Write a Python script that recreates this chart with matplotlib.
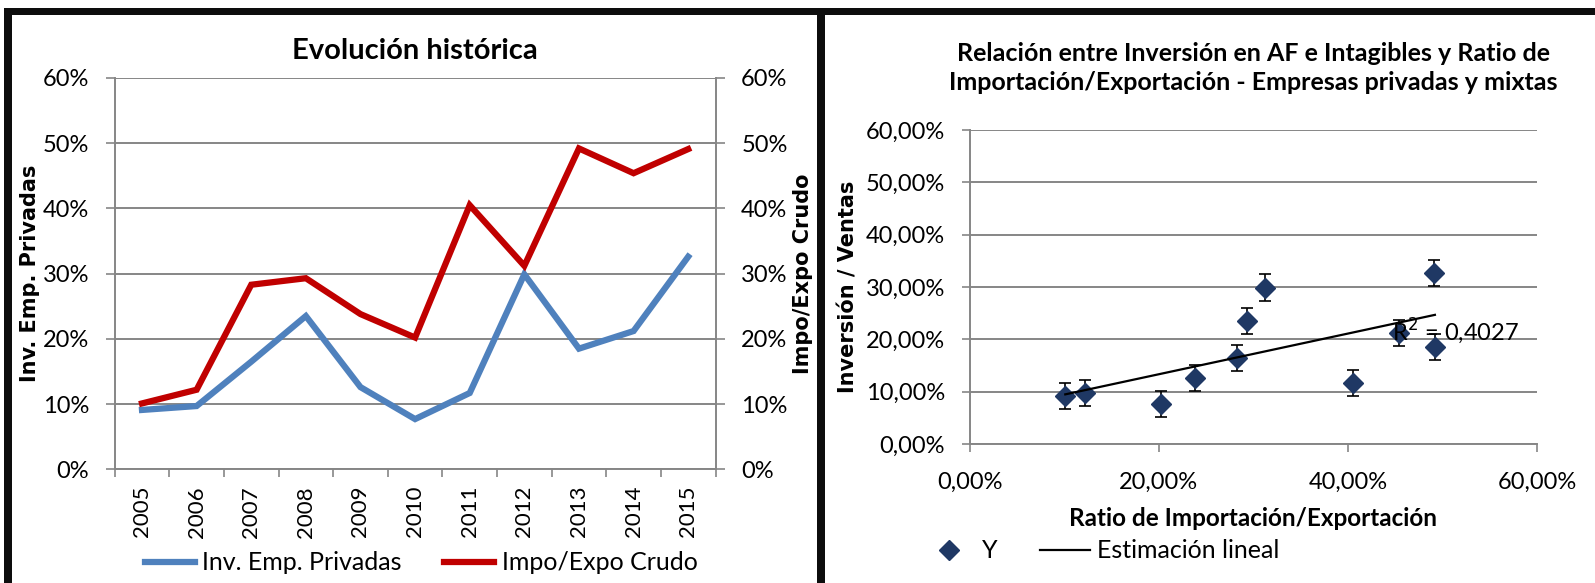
import numpy as np
import matplotlib
matplotlib.use("Agg")
import matplotlib.pyplot as plt
from matplotlib.patches import Rectangle
from matplotlib.ticker import FuncFormatter, FixedLocator

years = ["2005", "2006", "2007", "2008", "2009", "2010", "2011", "2012", "2013", "2014", "2015"]
inv_privadas = [0.091, 0.097, 0.165, 0.235, 0.126, 0.077, 0.117, 0.299, 0.185, 0.212, 0.326]
impo_expo = [0.101, 0.122, 0.283, 0.293, 0.238, 0.202, 0.405, 0.312, 0.492, 0.454, 0.491]
err_y = 0.025
r2_value = 0.4027

W, H = 1595, 583
fig = plt.figure(figsize=(W / 100, H / 100), dpi=100)
fig.patch.set_facecolor("white")

TXT = "Lato"
BOLD_AX = "DejaVu Sans"
grid_c = "#868686"
blue = "#4F81BD"
red = "#C00000"
navy = "#1F3864"


def box(x0, y0, x1, y1):
    # pixel box (top-left origin) -> figure fraction rectangle
    return [x0 / W, 1 - y1 / H, (x1 - x0) / W, (y1 - y0) / H]


# black frames around the two charts
for x0, y0, x1, y1 in [(4, 8, W, 15), (4, 8, 12, H), (817, 8, 825, H)]:
    b = box(x0, y0, x1, y1)
    fig.add_artist(Rectangle((b[0], b[1]), b[2], b[3], transform=fig.transFigure,
                             facecolor="#0d0d0d", edgecolor="none"))

# ---------- left chart: evolution ----------
ax = fig.add_axes(box(114.7, 78, 715.5, 469.3))
ax2 = ax.twinx()
xs = np.arange(len(years))

ax.plot(xs, inv_privadas, color=blue, lw=4.5, solid_joinstyle="miter", label="Inv. Emp. Privadas")
ax2.plot(xs, impo_expo, color=red, lw=4.5, solid_joinstyle="miter", label="Impo/Expo Crudo")

for a in (ax, ax2):
    a.set_ylim(0, 0.6)
    a.set_xlim(-0.5, len(years) - 0.5)
    a.set_yticks(np.arange(0, 0.61, 0.1))
    a.yaxis.set_major_formatter(FuncFormatter(lambda v, p: f"{v * 100:.0f}%"))
    for s in a.spines.values():
        s.set_visible(False)
    a.tick_params(axis="y", length=6.5, width=1.2, color=grid_c, pad=12,
                  labelsize=17, labelfontfamily=TXT)

ax.grid(axis="y", color=grid_c, lw=1.4)
ax.set_axisbelow(True)
ax.spines["left"].set_visible(True)
ax.spines["bottom"].set_visible(True)
ax2.spines["right"].set_visible(True)
for s in (ax.spines["left"], ax.spines["bottom"], ax2.spines["right"]):
    s.set_color(grid_c)
    s.set_linewidth(1.4)

ax.set_xticks(xs)
ax.set_xticklabels(years, rotation=90, fontsize=16, family=TXT)
ax.xaxis.set_minor_locator(FixedLocator(np.arange(-0.5, len(years), 1.0)))
ax.tick_params(axis="x", which="major", length=0, pad=12)
ax.tick_params(axis="x", which="minor", length=6, width=1.2, color=grid_c)

ax.set_title("Evolución histórica", fontsize=21, fontweight="bold", family=TXT, pad=14)
ax.set_ylabel("Inv. Emp. Privadas", fontsize=15, fontweight="bold", family=BOLD_AX)
ax.yaxis.set_label_coords(-0.124, 0.5)
ax2.set_ylabel("Impo/Expo Crudo", fontsize=15, fontweight="bold", family=BOLD_AX)
ax2.yaxis.set_label_coords(1.129, 0.5)

h1, l1 = ax.get_legend_handles_labels()
h2, l2 = ax2.get_legend_handles_labels()
fig.legend(h1 + h2, l1 + l2, loc="center", bbox_to_anchor=(421 / W, 1 - 563 / H), ncol=2,
           frameon=False, prop={"family": TXT, "size": 18}, handlelength=2.0,
           handletextpad=0.3, columnspacing=1.7)

# ---------- right chart: scatter with linear fit ----------
bx = fig.add_axes(box(969.8, 130, 1537, 444))
x = np.array(impo_expo)
y = np.array(inv_privadas)

bx.errorbar(x, y, yerr=err_y, fmt="none", ecolor="black", elinewidth=1.2, capsize=4, capthick=1.2)
bx.plot(x, y, "D", color=navy, markersize=10, ls="none", label="Y", zorder=3)

slope, intercept = np.polyfit(x, y, 1)
xf = np.array([x.min(), x.max()])
bx.plot(xf, slope * xf + intercept, color="black", lw=1.6, label="Estimación lineal", zorder=4)
bx.text(0.4466, 0.2146, f"R$^2$ = {r2_value:.4f}".replace(".", ","), fontsize=17, family=TXT,
        ha="left", va="center", zorder=5)

bx.set_xlim(0, 0.6)
bx.set_ylim(0, 0.6)
bx.set_xticks([0, 0.2, 0.4, 0.6])
bx.set_yticks(np.arange(0, 0.61, 0.1))
pct2 = FuncFormatter(lambda v, p: f"{v * 100:.2f}%".replace(".", ","))
bx.xaxis.set_major_formatter(pct2)
bx.yaxis.set_major_formatter(pct2)
bx.grid(axis="y", color=grid_c, lw=1.4)
bx.set_axisbelow(True)
for k, s in bx.spines.items():
    s.set_visible(k in ("left", "bottom"))
    s.set_color(grid_c)
    s.set_linewidth(1.4)
bx.tick_params(axis="both", length=6, width=1.2, color=grid_c, labelsize=17, labelfontfamily=TXT)
bx.tick_params(axis="y", pad=12)
bx.tick_params(axis="x", pad=14)

bx.set_title("Relación entre Inversión en AF e Intagibles y Ratio de\n"
             "Importación/Exportación - Empresas privadas y mixtas",
             fontsize=18, fontweight="bold", family=TXT, pad=29, linespacing=1.3)
bx.set_xlabel("Ratio de Importación/Exportación", fontsize=17.5, fontweight="bold", family=TXT, labelpad=10)
bx.set_ylabel("Inversión / Ventas", fontsize=15, fontweight="bold", family=BOLD_AX)
bx.yaxis.set_label_coords(-0.197, 0.5)

bx.legend(loc="center", bbox_to_anchor=(1102 / W, 1 - 551 / H), bbox_transform=fig.transFigure,
          ncol=2, frameon=False, prop={"family": TXT, "size": 18}, handlelength=2.0,
          handletextpad=0.3, columnspacing=1.7)

fig.savefig("out.png", dpi=100)
